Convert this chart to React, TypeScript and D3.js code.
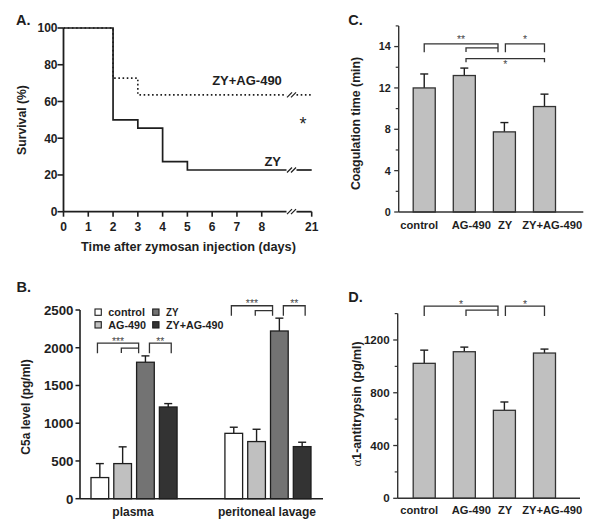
import React from "react";
import * as d3 from "d3";

const FONT = "'Liberation Sans', Arial, Helvetica, sans-serif";
const INK = "#1e1e1e";

// ---------- Panel A: survival ----------
const zyDays = [0, 2, 3, 4, 5];
const zySurvival = [100, 50, 45.5, 27.3, 22.7];
const zyAgDays = [0, 2, 3];
const zyAgSurvival = [100, 72.7, 63.6];
const survivalXTicks = [0, 1, 2, 3, 4, 5, 6, 7, 8, 21];
const survivalYTicks = [0, 20, 40, 60, 80, 100];
const BREAK_FROM = 9;
const BREAK_TO = 9.4;
const LAST_DAY = 21;

// ---------- Panel B: C5a ----------
const c5aGroups = ["plasma", "peritoneal lavage"];
const treatments = ["control", "AG-490", "ZY", "ZY+AG-490"];
const c5aPlasmaMean = [280, 465, 1808, 1215];
const c5aPlasmaErr = [185, 222, 84, 45];
const c5aLavageMean = [866, 757, 2222, 690];
const c5aLavageErr = [81, 163, 170, 58];
const c5aTicks = [0, 500, 1000, 1500, 2000, 2500];
const c5aColors = ["#ffffff", "#c0c0c0", "#737373", "#333333"];
const c5aPlasmaBrackets = [
  { from: "control", to: "ZY", level: 2061, legL: 10, legR: 10, label: "***" },
  { from: "AG-490", to: "ZY", level: 1995, legL: 5, legR: 0, label: "" },
  { from: "ZY", to: "ZY+AG-490", level: 2061, legL: 10, legR: 10, label: "**" },
];
const c5aLavageBrackets = [
  { from: "control", to: "ZY", level: 2556, legL: 10, legR: 10, label: "***" },
  { from: "AG-490", to: "ZY", level: 2493, legL: 5.3, legR: 0, label: "" },
  { from: "ZY", to: "ZY+AG-490", level: 2556, legL: 10, legR: 10, label: "**" },
];

// ---------- Panel C: coagulation ----------
const coagMean = [12.0, 13.2, 7.75, 10.2];
const coagErr = [1.35, 0.72, 0.9, 1.2];
const coagTickPos = [0, 4, 8, 12, 16];
const coagTickLabels = ["0", "4", "8", "12", "14"];
const coagMinor = [2, 6, 10, 14, 18];
const coagBrackets = [
  { from: "control", to: "ZY", level: 16.26, legL: 8.3, legR: 8.3, label: "**", below: false },
  { from: "AG-490", to: "ZY", level: 15.88, legL: 4.3, legR: 0, label: "", below: false },
  { from: "ZY", to: "ZY+AG-490", level: 16.26, legL: 8.3, legR: 8.3, label: "*", below: false },
  { from: "AG-490", to: "ZY+AG-490", level: 14.84, legL: 3.6, legR: 3.6, label: "*", below: true },
];

// ---------- Panel D: alpha1-antitrypsin ----------
const aatMean = [1023, 1111, 667, 1101];
const aatErr = [100, 35, 63, 30];
const aatTicks = [0, 400, 800, 1200];
const aatMinor = [200, 600, 1000, 1400];
const aatBrackets = [
  { from: "control", to: "ZY", level: 1457, legL: 10, legR: 10, label: "*", below: false },
  { from: "AG-490", to: "ZY", level: 1427, legL: 6, legR: 0, label: "", below: false },
  { from: "ZY", to: "ZY+AG-490", level: 1457, legL: 10, legR: 10, label: "*", below: false },
];

function BreakMark({ x, y }: { x: number; y: number }) {
  return (
    <g stroke={INK} strokeWidth={1.2}>
      <line x1={x - 4.5} y1={y + 2.5} x2={x + 0.5} y2={y - 2.5} />
      <line x1={x - 0.5} y1={y + 2.5} x2={x + 4.5} y2={y - 2.5} />
    </g>
  );
}

function PanelA() {
  const x = d3.scaleLinear().domain([0, BREAK_FROM, BREAK_TO, LAST_DAY]).range([63.5, 286.5, 296.5, 311.7]);
  const y = d3.scaleLinear().domain([0, 100]).range([211.7, 28]);
  const line = d3
    .line<[number, number]>()
    .x((d) => x(d[0]))
    .y((d) => y(d[1]))
    .curve(d3.curveStepAfter);
  const seg = (days: number[], vals: number[]) => {
    const pts: [number, number][] = days.map((d, i) => [d, vals[i]]);
    const last = vals[vals.length - 1];
    pts.push([BREAK_FROM, last]);
    return { a: line(pts) || "", b: line([[BREAK_TO, last], [LAST_DAY, last]]) || "", last };
  };
  const zy = seg(zyDays, zySurvival);
  const ag = seg(zyAgDays, zyAgSurvival);
  const bx = (x(BREAK_FROM) + x(BREAK_TO)) / 2;
  return (
    <g fontFamily={FONT} fontWeight="bold" fill={INK}>
      <text x={16} y={25} fontSize={14.5}>A.</text>
      <path d={ag.a} fill="none" stroke={INK} strokeWidth={1.6} strokeDasharray="1.6,2.6" />
      <path d={ag.b} fill="none" stroke={INK} strokeWidth={1.6} strokeDasharray="1.6,2.6" />
      <BreakMark x={bx} y={y(ag.last)} />
      <path d={zy.a} fill="none" stroke={INK} strokeWidth={1.7} />
      <path d={zy.b} fill="none" stroke={INK} strokeWidth={1.7} />
      <BreakMark x={bx} y={y(zy.last)} />
      <line x1={x(0)} y1={y(0)} x2={x(0)} y2={y(100)} stroke={INK} strokeWidth={1.8} />
      <line x1={x(0)} y1={y(0)} x2={x(BREAK_FROM)} y2={y(0)} stroke={INK} strokeWidth={1.8} />
      <line x1={x(BREAK_TO)} y1={y(0)} x2={x(LAST_DAY)} y2={y(0)} stroke={INK} strokeWidth={1.8} />
      <BreakMark x={bx} y={y(0)} />
      {survivalYTicks.map((t) => (
        <g key={t}>
          <line x1={x(0) - 6} x2={x(0)} y1={y(t)} y2={y(t)} stroke={INK} strokeWidth={1.6} />
          <text x={x(0) - 6} y={y(t) + 4.3} fontSize={12} textAnchor="end">{t}</text>
        </g>
      ))}
      {survivalXTicks.map((t) => (
        <g key={t}>
          <line x1={x(t)} x2={x(t)} y1={y(0)} y2={y(0) + 5} stroke={INK} strokeWidth={1.6} />
          <text x={x(t)} y={y(0) + 19.5} fontSize={12} textAnchor="middle">{t}</text>
        </g>
      ))}
      <text x={188.5} y={250.5} fontSize={12.7} textAnchor="middle">Time after zymosan injection (days)</text>
      <text transform="translate(26,120) rotate(-90)" fontSize={12.2} textAnchor="middle">Survival (%)</text>
      <text x={247} y={84.5} fontSize={13} textAnchor="middle">ZY+AG-490</text>
      <text x={272.7} y={166} fontSize={13} textAnchor="middle">ZY</text>
      <text x={303} y={130} fontSize={18} textAnchor="middle" fontWeight="normal">*</text>
    </g>
  );
}

type Br = { from: string; to: string; level: number; legL: number; legR: number; label: string; below?: boolean };

function Brackets({
  list, cx, y, offFrom, offTo, starDy,
}: {
  list: Br[];
  cx: (k: string) => number;
  y: (v: number) => number;
  offFrom: Record<string, number>;
  offTo: Record<string, number>;
  starDy: number;
}) {
  return (
    <g>
      {list.map((b, i) => {
        const x1 = cx(b.from) + (offFrom[b.from] || 0);
        const x2 = cx(b.to) + (offTo[b.to] || 0);
        const yy = y(b.level);
        const d = `M${x1},${yy + b.legL}V${yy}H${x2}V${yy + b.legR}`;
        return (
          <g key={i}>
            <path d={d} fill="none" stroke="#333" strokeWidth={1.3} />
            {b.label && (
              <text
                x={(x1 + x2) / 2}
                y={b.below ? yy + 9.8 : yy + starDy}
                fontSize={10.5}
                fontWeight="normal"
                fill="#4a4a4a"
                textAnchor="middle"
              >
                {b.label}
              </text>
            )}
          </g>
        );
      })}
    </g>
  );
}

function PanelB() {
  const x0 = d3.scaleBand().domain(c5aGroups).range([80, 322]).paddingInner(0.313).paddingOuter(0.06);
  const x1 = d3.scaleBand().domain(treatments).range([0, x0.bandwidth()]).paddingInner(0.224).paddingOuter(0.13);
  const y = d3.scaleLinear().domain([0, 2500]).range([498.7, 310]);
  const groupData = [
    { g: c5aGroups[0], mean: c5aPlasmaMean, err: c5aPlasmaErr, br: c5aPlasmaBrackets },
    { g: c5aGroups[1], mean: c5aLavageMean, err: c5aLavageErr, br: c5aLavageBrackets },
  ];
  const legendWidths = [36.7, 37.7, 12.5, 57.5];
  return (
    <g fontFamily={FONT} fontWeight="bold" fill={INK}>
      <text x={16.5} y={291.7} fontSize={14.5}>B.</text>
      {groupData.map((gd) => {
        const gx = x0(gd.g) || 0;
        const cx = (k: string) => gx + (x1(k) || 0) + x1.bandwidth() / 2;
        return (
          <g key={gd.g}>
            {treatments.map((t, i) => {
              const bxl = gx + (x1(t) || 0);
              const c = bxl + x1.bandwidth() / 2;
              return (
                <g key={t}>
                  <line x1={c} x2={c} y1={y(gd.mean[i])} y2={y(gd.mean[i] + gd.err[i])} stroke={INK} strokeWidth={1.4} />
                  <line x1={c - 4} x2={c + 4} y1={y(gd.mean[i] + gd.err[i])} y2={y(gd.mean[i] + gd.err[i])} stroke={INK} strokeWidth={1.4} />
                  <rect x={bxl} y={y(gd.mean[i])} width={x1.bandwidth()} height={y(0) - y(gd.mean[i])} fill={c5aColors[i]} stroke={INK} strokeWidth={1.3} />
                </g>
              );
            })}
            <Brackets
              list={gd.br}
              cx={cx}
              y={y}
              offFrom={{ control: -2.4, "AG-490": -1.3, ZY: 4 }}
              offTo={{ ZY: -6.8, "ZY+AG-490": 3 }}
              starDy={1.6}
            />
            <text x={gx + x0.bandwidth() / 2 - 1} y={515.5} fontSize={12} textAnchor="middle">{gd.g}</text>
          </g>
        );
      })}
      <line x1={80} x2={80} y1={y(0)} y2={y(2500)} stroke={INK} strokeWidth={1.6} />
      <line x1={80} x2={323} y1={y(0)} y2={y(0)} stroke={INK} strokeWidth={1.6} />
      {c5aTicks.map((t) => (
        <g key={t}>
          <line x1={75.5} x2={80} y1={y(t)} y2={y(t)} stroke={INK} strokeWidth={1.5} />
          <text x={73.5} y={y(t) + 4.8} fontSize={13.3} textAnchor="end">{t}</text>
        </g>
      ))}
      <text transform="translate(30,407) rotate(-90)" fontSize={12} textAnchor="middle">C5a level (pg/ml)</text>
      {treatments.map((t, i) => {
        const col = i < 2 ? 0 : 1;
        const row = i % 2;
        const lx = 95 + col * 57.7;
        const ly = 309 + row * 12.7;
        return (
          <g key={t}>
            <rect x={lx} y={ly} width={6.3} height={6.3} fill={c5aColors[i]} stroke={INK} strokeWidth={1.1} />
            <text x={lx + 13.3} y={ly + 7.1} fontSize={10.5} textLength={legendWidths[i]} lengthAdjust="spacingAndGlyphs">{t}</text>
          </g>
        );
      })}
    </g>
  );
}

function BarPanel({
  letter, letterY, mean, err, y, yTop, y0, axisX, axisEnd, ticks, tickLabels, minor, tickFont,
  brackets, starDy, labelY, yLabel, yLabelX, yLabelY,
}: any) {
  const x = d3.scaleBand().domain(treatments).range([413.2, 555.5]).paddingInner(0.45).paddingOuter(0);
  const cx = (k: string) => (x(k) || 0) + x.bandwidth() / 2;
  const labelShift = [-5, 7, 0.8, 7.7];
  return (
    <g fontFamily={FONT} fontWeight="bold" fill={INK}>
      <text x={348.3} y={letterY} fontSize={14.5}>{letter}</text>
      {treatments.map((t, i) => {
        const c = cx(t);
        const top = y(mean[i] + err[i]);
        return (
          <g key={t}>
            <line x1={c} x2={c} y1={y(mean[i])} y2={top} stroke={INK} strokeWidth={1.4} />
            <line x1={c - 4} x2={c + 4} y1={top} y2={top} stroke={INK} strokeWidth={1.4} />
            <rect x={x(t)} y={y(mean[i])} width={x.bandwidth()} height={y(0) - y(mean[i])} fill="#c0c0c0" stroke="#333" strokeWidth={1.3} />
            <text x={c + labelShift[i]} y={labelY} fontSize={11.2} textAnchor="middle">{t}</text>
          </g>
        );
      })}
      <line x1={axisX} x2={axisX} y1={y0} y2={yTop} stroke="#333" strokeWidth={1.4} />
      <line x1={axisX} x2={axisEnd} y1={y0} y2={y0} stroke="#333" strokeWidth={1.4} />
      {ticks.map((t: number, i: number) => (
        <g key={t}>
          <line x1={axisX - 4.5} x2={axisX} y1={y(t)} y2={y(t)} stroke="#333" strokeWidth={1.3} />
          <text x={axisX - 8} y={y(t) + tickFont * 0.36} fontSize={tickFont} textAnchor="end">{tickLabels[i]}</text>
        </g>
      ))}
      {minor.map((t: number) => (
        <line key={t} x1={axisX - 3} x2={axisX} y1={y(t)} y2={y(t)} stroke="#333" strokeWidth={1.2} />
      ))}
      <Brackets
        list={brackets}
        cx={cx}
        y={y}
        offFrom={{ "AG-490": 1.7, ZY: 1 }}
        offTo={{ ZY: -6.4 }}
        starDy={starDy}
      />
      <text transform={`translate(${yLabelX},${yLabelY}) rotate(-90)`} fontSize={12.3} textAnchor="middle">{yLabel}</text>
    </g>
  );
}

export default function App() {
  const yC = d3.scaleLinear().domain([0, 18]).range([212, 25.9]);
  const yD = d3.scaleLinear().domain([0, 1400]).range([498.3, 313.6]);
  return (
    <div style={{ position: "absolute", left: 0, top: 0 }}>
      <svg width={600} height={527} viewBox="0 0 600 527" style={{ display: "block", background: "#fff" }}>
        <rect width={600} height={527} fill="#fff" />
        <PanelA />
        <PanelB />
        <BarPanel
          letter="C."
          letterY={25}
          mean={coagMean}
          err={coagErr}
          y={yC}
          yTop={yC(18)}
          y0={yC(0)}
          axisX={398.7}
          axisEnd={583.3}
          ticks={coagTickPos}
          tickLabels={coagTickLabels}
          minor={coagMinor}
          tickFont={10.8}
          brackets={coagBrackets}
          starDy={-0.6}
          labelY={229.2}
          yLabel="Coagulation time (min)"
          yLabelX={359.5}
          yLabelY={123.5}
        />
        <BarPanel
          letter="D."
          letterY={301.7}
          mean={aatMean}
          err={aatErr}
          y={yD}
          yTop={yD(1400)}
          y0={yD(0)}
          axisX={397.7}
          axisEnd={580}
          ticks={aatTicks}
          tickLabels={aatTicks.map(String)}
          minor={aatMinor}
          tickFont={11.6}
          brackets={aatBrackets}
          starDy={1.6}
          labelY={514.2}
          yLabel={
            <>
              <tspan fontFamily="'Liberation Serif', 'DejaVu Serif', serif" fontWeight="normal" fontSize={13}>α</tspan>
              <tspan>1-antitrypsin (pg/ml)</tspan>
            </>
          }
          yLabelX={361}
          yLabelY={404}
        />
      </svg>
    </div>
  );
}
